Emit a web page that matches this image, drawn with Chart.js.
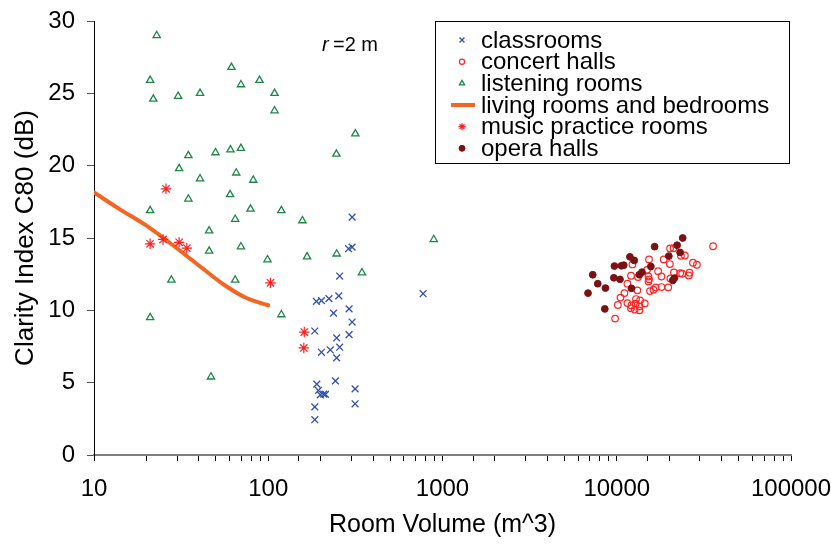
<!DOCTYPE html>
<html>
<head>
<meta charset="utf-8">
<script src="https://cdn.jsdelivr.net/npm/chart.js@4.4.1/dist/chart.umd.min.js"></script>
<style>
html, body { margin: 0; padding: 0; background: #fff; }
#wrap { width: 831px; height: 545px; }
</style>
</head>
<body>
<div id="wrap"><canvas id="c80Chart" width="831" height="545"></canvas></div>
<script>
// classrooms
const classVol = [303, 289, 303, 257, 189, 202, 223, 254, 237, 291, 303, 185, 247, 291, 202, 227, 257, 247, 243, 190, 194, 199, 208, 213, 315, 315, 185, 185, 774];
const classC80 = [16.44, 14.26, 14.37, 12.37, 10.62, 10.67, 10.81, 11.0, 9.81, 10.1, 9.19, 8.57, 8.09, 8.32, 7.1, 7.26, 7.45, 6.71, 5.12, 4.9, 4.46, 4.16, 4.21, 4.19, 4.57, 3.54, 3.33, 2.44, 11.15];

// concert halls
const concertVol = [35700, 20230, 21170, 15320, 18610, 24590, 23340, 20180, 27370, 28840, 12300, 14920, 17270, 21280, 23130, 23730, 26160, 25940, 12080, 13250, 15200, 15320, 15200, 18060, 20330, 11510, 18060, 19740, 16740, 16250, 15520, 13140, 11070, 10500, 12900, 13610, 14480, 11510, 12140, 12830, 13520, 12060, 12670, 13490, 10150, 9780];
const concertC80 = [14.43, 14.28, 14.3, 13.52, 13.52, 13.79, 13.77, 13.2, 13.29, 13.15, 13.17, 12.8, 12.71, 12.62, 12.57, 12.53, 12.6, 12.41, 12.39, 12.3, 12.34, 12.14, 12.0, 12.34, 12.2, 11.84, 11.61, 11.59, 11.59, 11.43, 11.33, 11.38, 11.19, 10.88, 10.78, 10.69, 10.48, 10.5, 10.34, 10.46, 10.28, 10.14, 10.05, 10.0, 10.37, 9.43];

// listening rooms
const listenVol = [22.9, 21.0, 21.9, 30.4, 40.6, 61.5, 69.7, 89.1, 108.7, 108.7, 316, 246, 34.8, 49.8, 60.7, 69.7, 30.8, 40.6, 65.5, 82, 34.8, 60.4, 21.0, 79.1, 118.9, 64.6, 157, 45.8, 45.8, 69.7, 99, 167, 247, 345, 27.8, 64.6, 21.0, 118.9, 46.9, 891];
const listenC80 = [29.0, 25.9, 24.6, 24.8, 25.0, 26.8, 25.6, 25.9, 25.0, 23.8, 22.2, 20.8, 20.7, 20.9, 21.1, 21.2, 19.8, 19.1, 19.5, 19.0, 17.7, 18.0, 16.9, 17.0, 16.9, 16.3, 16.2, 15.5, 14.1, 14.4, 13.5, 13.7, 13.9, 12.6, 12.1, 12.1, 9.5, 9.7, 5.4, 14.9];

// living rooms and bedrooms (fitted curve)
const livingVol = [10, 14, 20, 28, 40, 56, 75, 100];
const livingC80 = [18.15, 17.0, 15.85, 14.55, 13.1, 11.75, 10.85, 10.35];

// music practice rooms
const musicVol = [25.9, 21.0, 24.9, 30.8, 34.1, 103, 161, 160];
const musicC80 = [18.4, 14.6, 14.9, 14.7, 14.3, 11.9, 8.5, 7.4];

// opera halls
const operaVol = [23900, 16500, 22200, 23100, 19900, 11900, 12600, 9700, 10640, 10970, 15700, 7280, 13960, 13490, 9620, 10440, 21440, 20970, 7780, 8610, 6840, 12140, 8540];
const operaC80 = [15.0, 14.4, 14.5, 14.0, 13.75, 13.7, 13.45, 13.06, 13.08, 13.12, 13.03, 12.46, 12.64, 12.46, 12.25, 12.14, 12.23, 12.07, 11.84, 11.54, 11.19, 11.52, 10.1];

const yTicks = [0, 5, 10, 15, 20, 25, 30];

function pts(xs, ys) {
    return xs.map((x, i) => ({ x: x, y: ys[i] }));
}

const FONT = "'Liberation Sans', Arial, Helvetica, sans-serif";
Chart.defaults.font.family = FONT;
Chart.defaults.color = '#000';

// legend drawn by hand so it sits in the box like the original
const legendBox = {
    id: 'legendBox',
    afterDraw(chart) {
        const ctx = chart.ctx;
        ctx.save();
        ctx.strokeStyle = '#000';
        ctx.lineWidth = 1;
        ctx.strokeRect(435.5, 21.5, 354, 142);

        const rowY = [40, 61.7, 83.3, 105, 126.7, 148.3];
        chart.data.datasets.forEach((ds, i) => {
            const y = rowY[i];
            if (ds.showLine) {
                ctx.strokeStyle = ds.borderColor;
                ctx.lineWidth = 4;
                ctx.beginPath();
                ctx.moveTo(451, y);
                ctx.lineTo(475, y);
                ctx.stroke();
            } else {
                ctx.strokeStyle = ds.borderColor;
                ctx.fillStyle = ds.backgroundColor;
                ctx.lineWidth = ds.borderWidth;
                Chart.helpers.drawPoint(ctx, {
                    pointStyle: ds.pointStyle,
                    radius: ds.legendRadius,
                    borderWidth: ds.borderWidth,
                    rotation: 0
                }, 462, y);
            }
            ctx.fillStyle = '#000';
            ctx.font = '24px ' + FONT;
            ctx.textAlign = 'left';
            ctx.textBaseline = 'middle';
            ctx.fillText(ds.label, 481, y + 1);
        });

        // r = 2 m note
        ctx.textBaseline = 'middle';
        ctx.font = 'italic 20px ' + FONT;
        ctx.fillText('r', 322, 45);
        ctx.font = '20px ' + FONT;
        ctx.fillText('=2 m', 333, 45);
        ctx.restore();
    }
};

const ctx1 = document.getElementById('c80Chart').getContext('2d');
const c80Chart = new Chart(ctx1, {
    type: 'scatter',
    data: {
        datasets: [{
            label: 'classrooms',
            data: pts(classVol, classC80),
            pointStyle: 'crossRot',
            pointRadius: 4.8,
            legendRadius: 3.5,
            borderColor: '#3352A8',
            backgroundColor: 'rgba(0,0,0,0)',
            borderWidth: 1.3,
            order: 3
        }, {
            label: 'concert halls',
            data: pts(concertVol, concertC80),
            pointStyle: 'circle',
            pointRadius: 3.3,
            legendRadius: 2.6,
            borderColor: '#FF2424',
            backgroundColor: 'rgba(0,0,0,0)',
            borderWidth: 1.2,
            order: 2
        }, {
            label: 'listening rooms',
            data: pts(listenVol, listenC80),
            pointStyle: 'triangle',
            pointRadius: 4.2,
            legendRadius: 3,
            borderColor: '#1E8746',
            backgroundColor: 'rgba(0,0,0,0)',
            borderWidth: 1.3,
            order: 4
        }, {
            label: 'living rooms and bedrooms',
            data: pts(livingVol, livingC80),
            showLine: true,
            pointRadius: 0,
            borderColor: '#F26522',
            backgroundColor: '#F26522',
            borderWidth: 4,
            borderCapStyle: 'round',
            cubicInterpolationMode: 'monotone',
            order: 5
        }, {
            label: 'music practice rooms',
            data: pts(musicVol, musicC80),
            pointStyle: 'star',
            pointRadius: 5.2,
            legendRadius: 3.5,
            borderColor: '#FF2020',
            backgroundColor: 'rgba(0,0,0,0)',
            borderWidth: 1.2,
            order: 1
        }, {
            label: 'opera halls',
            data: pts(operaVol, operaC80),
            pointStyle: 'circle',
            pointRadius: 3.4,
            legendRadius: 3,
            borderColor: '#7A1214',
            backgroundColor: '#7A1214',
            borderWidth: 1,
            order: 0
        }]
    },
    options: {
        responsive: false,
        animation: false,
        devicePixelRatio: 1,
        layout: { padding: { left: 0, right: 40, top: 21, bottom: 0 } },
        plugins: {
            legend: { display: false },
            tooltip: { enabled: false }
        },
        scales: {
            x: {
                type: 'logarithmic',
                position: 'bottom',
                min: 10,
                max: 100000,
                border: { display: true, color: '#808080', width: 2 },
                grid: { display: true, drawOnChartArea: false, drawTicks: true, tickLength: 6, color: '#000', lineWidth: 1 },
                ticks: {
                    autoSkip: false,
                    maxRotation: 0,
                    padding: 14,
                    color: '#000',
                    font: { size: 24 },
                    callback: function (v) {
                        const e = Math.log10(v);
                        return Math.abs(e - Math.round(e)) < 1e-9 ? String(Math.round(v)) : '';
                    }
                },
                title: {
                    display: true,
                    text: 'Room Volume (m^3)',
                    color: '#000',
                    font: { size: 25 },
                    padding: { top: 0, bottom: 5 }
                },
                afterFit: function (s) {
                    s.height = 90;
                    s.paddingLeft = 0;
                    s.paddingRight = 0;
                }
            },
            y: {
                min: 0,
                max: 30,
                border: { display: true, color: '#000', width: 1 },
                grid: { display: true, drawOnChartArea: false, drawTicks: true, tickLength: 7, color: '#555', lineWidth: 1 },
                afterBuildTicks: function (s) {
                    s.ticks = yTicks.map(v => ({ value: v }));
                },
                ticks: {
                    padding: 12,
                    color: '#000',
                    font: { size: 24 }
                },
                title: {
                    display: true,
                    text: 'Clarity Index C80 (dB)',
                    color: '#000',
                    font: { size: 26 },
                    padding: { top: 10, bottom: 0 }
                },
                afterFit: function (s) {
                    s.width = 94;
                    s.paddingTop = 0;
                    s.paddingBottom = 0;
                }
            }
        }
    },
    plugins: [legendBox]
});
</script>
</body>
</html>
